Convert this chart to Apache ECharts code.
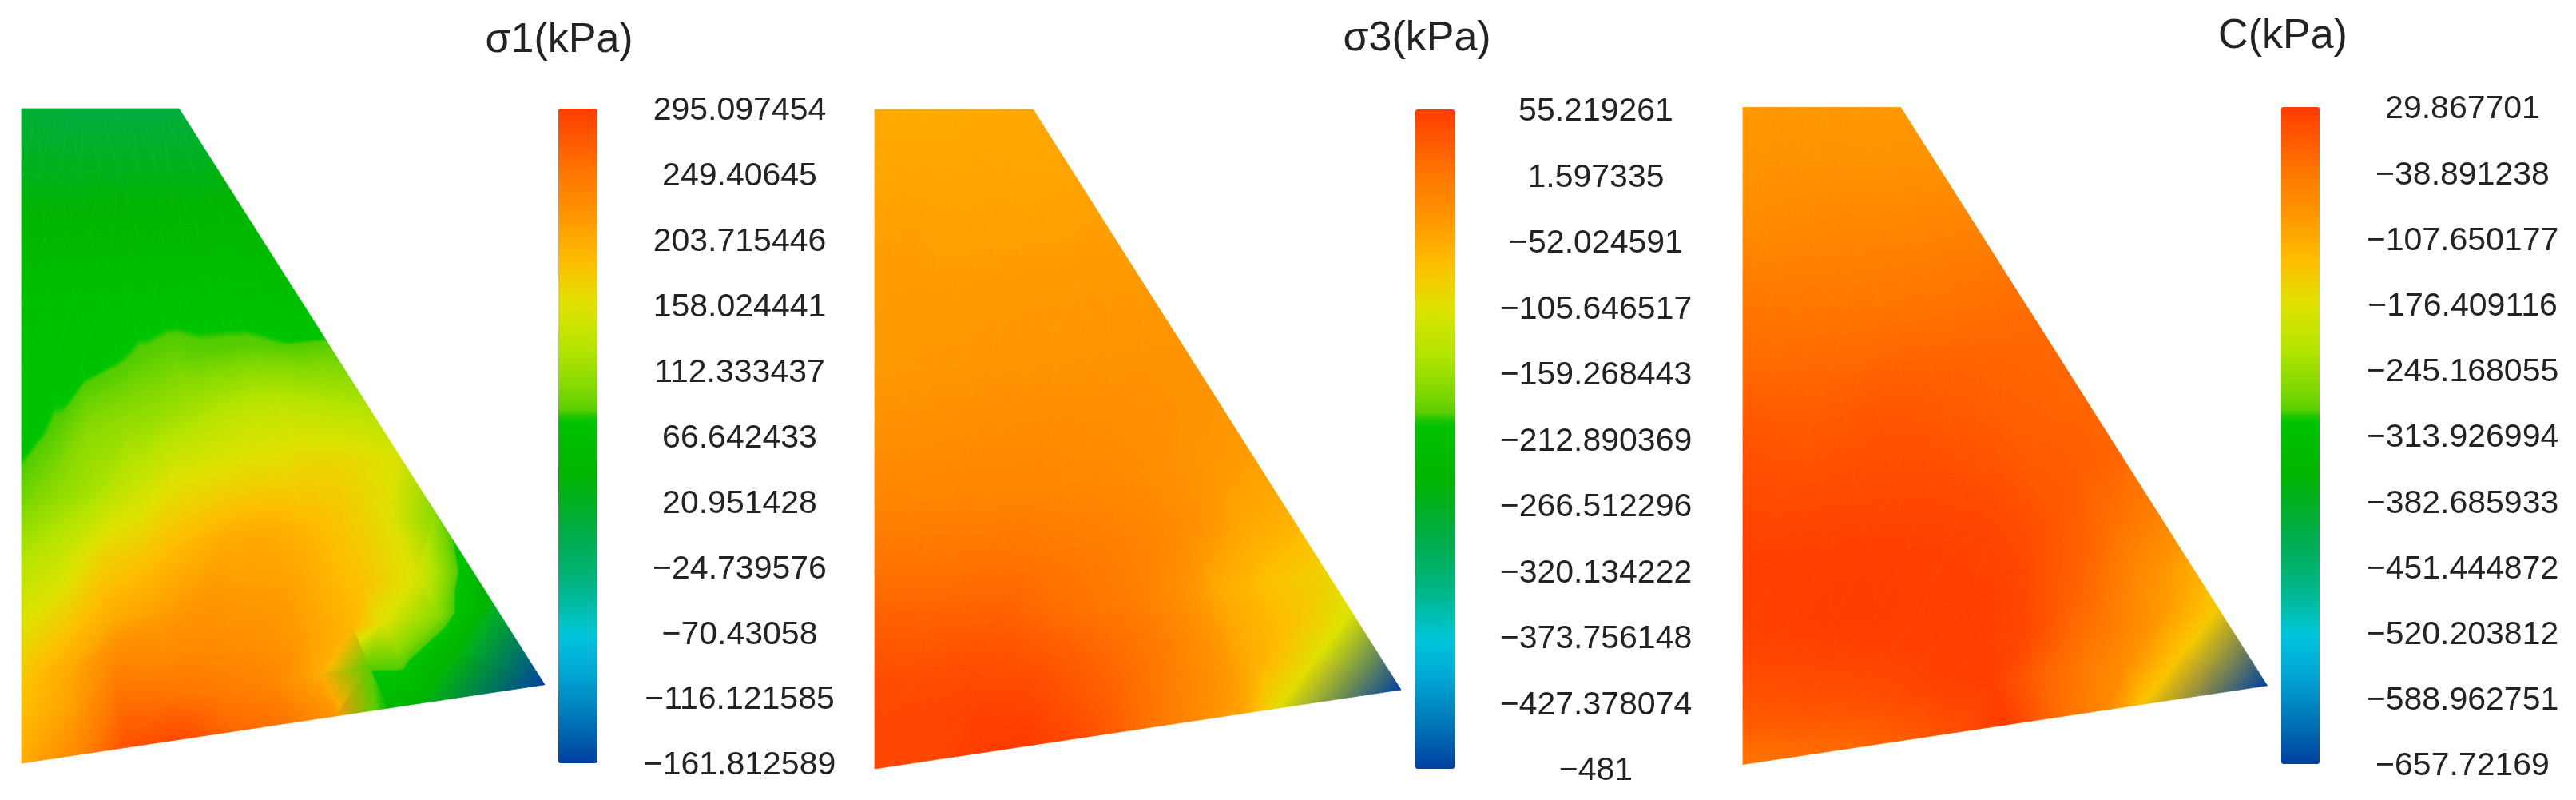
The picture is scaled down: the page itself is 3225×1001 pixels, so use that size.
<!DOCTYPE html>
<html>
<head>
<meta charset="utf-8">
<style>html,body{margin:0;padding:0;background:#fff}#c{width:3225px;height:1001px}</style>
<script src="https://cdn.jsdelivr.net/npm/echarts@6/dist/echarts.min.js"></script>
</head>
<body>
<div id="c"></div>
<script>
const titles = ['σ1(kPa)', 'σ3(kPa)', 'C(kPa)'];

const ticksS1 = ['295.097454','249.40645','203.715446','158.024441','112.333437','66.642433','20.951428','−24.739576','−70.43058','−116.121585','−161.812589'];
const ticksS3 = ['55.219261','1.597335','−52.024591','−105.646517','−159.268443','−212.890369','−266.512296','−320.134222','−373.756148','−427.378074','−481'];
const ticksC  = ['29.867701','−38.891238','−107.650177','−176.409116','−245.168055','−313.926994','−382.685933','−451.444872','−520.203812','−588.962751','−657.72169'];

const rangeS1 = [-161.812589, 295.097454];
const rangeS3 = [-481, 55.219261];
const rangeC  = [-657.72169, 29.867701];

// Mesh stations across the section (u) and down the section (v)
const uStations = [0, .1, .2, .3, .4, .5, .6, .7, .76, .88, 1];
const vStations = [0, .1, .2, .3, .4, .5, .6, .7, .8, .865, .93, 1];
// Outline of the section: top-left, top-right, toe, bottom-left
const outline = [[0, 1], [.301, 1], [1, .12], [0, 0]];

// Nodal values, kPa (rows follow vStations, columns uStations)
const valuesS1 = [
  [7,7,6,3,3,3,2,3,3,4,4],
  [25,25,24,25,25,24,25,25,24,25,25],
  [48,48,47,48,48,48,47,48,48,49,48],
  [67,67,68,67,67,66,67,67,66,62,60],
  [71,71,72,78,85,89,85,85,85,80,80],
  [71,85,103,108,112,121,130,135,135,126,117],
  [94,108,121,140,158,162,167,167,172,167,153],
  [130,144,172,181,194,204,204,194,185,162,103],
  [162,181,204,213,222,217,213,194,185,153,57],
  [181,204,236,231,231,226,213,194,158,103,22],
  [190,213,258,254,245,236,204,85,89,32,null],
  [204,231,281,286,263,254,222,44,39,null,-162]
];
const valuesS3 = [
  [-52,-52,-52,-52,-52,-52,-50,-50,-50,-49,-49],
  [-47,-47,-46,-47,-47,-47,-46,-47,-47,-47,-46],
  [-41,-41,-41,-42,-42,-42,-42,-42,-42,-41,-41],
  [-39,-38,-38,-38,-37,-37,-36,-36,-36,-36,-36],
  [-36,-35,-34,-34,-33,-33,-33,-32,-32,-31,-31],
  [-25,-25,-24,-23,-23,-22,-23,-24,-25,-28,-31],
  [-12,-13,-14,-15,-15,-17,-18,-22,-25,-33,-41],
  [7,5,4,4,1,-4,-9,-17,-25,-47,-57],
  [28,26,26,24,12,2,-9,-31,-52,-74,-90],
  [42,39,40,36,26,12,-4,-31,-52,-74,-108],
  [46,47,50,48,33,15,-7,-33,-57,-102,null],
  [47,45,55,55,40,12,-15,-47,-96,null,-481]
];
const valuesC = [
  [-87,-87,-86,-87,-87,-87,-86,-87,-87,-87,-87],
  [-77,-77,-76,-77,-77,-76,-77,-77,-77,-76,-77],
  [-63,-62,-61,-60,-59,-59,-58,-58,-57,-56,-56],
  [-39,-40,-41,-42,-42,-42,-41,-40,-39,-36,-32],
  [-22,-22,-22,-22,-21,-18,-18,-18,-18,-18,-18],
  [2,-1,-4,-1,2,1,-4,-8,-11,-15,-18],
  [16,13,13,13,13,13,8,2,-4,-8,-18],
  [26,26,26,26,25,23,20,9,-1,-25,-52],
  [23,26,30,30,26,26,23,-4,-18,-66,-108],
  [13,16,20,23,26,26,16,-22,-39,-87,-145],
  [-4,2,6,13,23,26,-15,-49,-66,-140,null],
  [-35,-28,-22,-8,9,30,-25,-66,-135,null,-658]
];

// Colour ramp: position down the bar (0 = top) and its colour
const rampStops = [
  [0,'#ff3c00'],[.1,'#ff7800'],[.165,'#ff9600'],[.23,'#ffbc00'],[.3,'#dfe200'],[.37,'#b4e400'],
  [.43,'#80d800'],[.467,'#50cc00'],[.472,'#00c400'],[.56,'#00b400'],[.65,'#00ac48'],[.72,'#00b47c'],
  [.785,'#00c2c4'],[.805,'#00c4dc'],[.86,'#00a8d4'],[.93,'#0078b8'],[1,'#0040a0']
];

const layouts = [
  {left:27,   top:136,   width:655,   height:819, barLeft:699,  barTop:136, barW:49, barH:819, label:926,  titleX:700,  titleY:51},
  {left:1095, top:137,   width:659,   height:825, barLeft:1772, barTop:137, barW:49, barH:825, label:1998, titleX:1774, titleY:49},
  {left:2182, top:134.5, width:656.5, height:822, barLeft:2856, barTop:134, barW:48, barH:822, label:3083, titleX:2858, titleY:46}
];
const tables = [valuesS1, valuesS3, valuesC];
const ranges = [rangeS1, rangeS3, rangeC];
const tickLists = [ticksS1, ticksS3, ticksC];
const FONT = '"Liberation Sans", Arial, sans-serif';
const TEXT = '#232323';
const LABEL_DROP = 3;

function hexRgb(h){return [parseInt(h.slice(1,3),16),parseInt(h.slice(3,5),16),parseInt(h.slice(5,7),16)];}
const rampRgb = rampStops.map(s => [s[0], hexRgb(s[1])]);
function colorAt(f){
  f = Math.max(0, Math.min(1, f));
  for (let i = 1; i < rampRgb.length; i++) {
    if (f <= rampRgb[i][0]) {
      const a = rampRgb[i-1], b = rampRgb[i], t = (f-a[0])/(b[0]-a[0]);
      return 'rgb(' + a[1].map((c,k) => Math.round(c+(b[1][k]-c)*t)).join(',') + ')';
    }
  }
  return rampStops[rampStops.length-1][1];
}
const rampList = [];
for (let i = 0; i <= 200; i++) rampList.push(colorAt(1 - i/200));

function nodeXY(u, v){
  const [tl, tr, toe, bl] = outline;
  const ax = tl[0]+(tr[0]-tl[0])*u, ay = tl[1]+(tr[1]-tl[1])*u;
  const bx = bl[0]+(toe[0]-bl[0])*u, by = bl[1]+(toe[1]-bl[1])*u;
  return [ax+(bx-ax)*v, ay+(by-ay)*v];
}

function buildTriangles(table){
  const out = [];
  const nu = uStations.length, nv = vStations.length;
  const toe = {p: nodeXY(1,1), v: table[nv-1][nu-1]};
  const node = (i,j) => table[j][i] === null ? null : {p: nodeXY(uStations[i], vStations[j]), v: table[j][i]};
  const push = (a,b,c) => {
    if (!a || !b || !c) return;
    out.push([a.p[0],a.p[1],a.v,b.p[0],b.p[1],b.v,c.p[0],c.p[1],c.v,(a.v+b.v+c.v)/3]);
  };
  for (let j = 0; j < nv-1; j++) for (let i = 0; i < nu-1; i++) {
    const A = node(i,j), B = node(i+1,j), C = node(i,j+1);
    const D = node(i+1,j+1) || toe;
    push(A,B,C);
    push(B,D,C);
  }
  return out;
}

function makeRender(range){
  const [lo, hi] = range;
  const frac = v => (hi - v)/(hi - lo);
  return function(params, api){
    const pts = [0,3,6].map(k => api.coord([api.value(k), api.value(k+1)]));
    const vals = [2,5,8].map(k => api.value(k));
    const order = [0,1,2].sort((a,b) => vals[a]-vals[b]);
    const vmin = vals[order[0]], vmax = vals[order[2]];
    const [p0,p1,p2] = pts, [v0,v1,v2] = vals;
    const det = (p1[0]-p0[0])*(p2[1]-p0[1]) - (p2[0]-p0[0])*(p1[1]-p0[1]);
    let fill;
    if (vmax - vmin < 1e-6 || Math.abs(det) < 1e-6) {
      fill = colorAt(frac((vmin+vmax)/2));
    } else {
      const gx = ((v1-v0)*(p2[1]-p0[1]) - (v2-v0)*(p1[1]-p0[1]))/det;
      const gy = ((v2-v0)*(p1[0]-p0[0]) - (v1-v0)*(p2[0]-p0[0]))/det;
      const g2 = gx*gx + gy*gy;
      const s = pts[order[0]];
      const d = (vmax-vmin)/g2;
      const stops = [];
      const fTop = frac(vmax), fLow = frac(vmin), span = fLow - fTop;
      const direct = span > 0.22 || (span > 0.12 && fTop < 0.305 && fLow > 0.3);
      if (direct) {
        order.forEach(o => stops.push({offset:(vals[o]-vmin)/(vmax-vmin), color:colorAt(frac(vals[o]))}));
      } else {
        stops.push({offset:0, color:colorAt(fLow)});
        for (let i = rampStops.length-1; i >= 0; i--) {
          const val = hi - rampStops[i][0]*(hi-lo);
          if (val > vmin && val < vmax) stops.push({offset:(val-vmin)/(vmax-vmin), color:rampStops[i][1]});
        }
        stops.push({offset:1, color:colorAt(fTop)});
      }
      fill = {type:'linear', x:s[0], y:s[1], x2:s[0]+gx*d, y2:s[1]+gy*d, global:true, colorStops:stops};
    }
    return {type:'polygon', shape:{points:pts}, style:{fill:fill, stroke:fill, lineWidth:0.8}};
  };
}

const grid = [], xAxis = [], yAxis = [], series = [], visualMap = [], title = [];
layouts.forEach((L, i) => {
  grid.push({left:L.left, top:L.top, width:L.width, height:L.height, containLabel:false});
  xAxis.push({type:'value', gridIndex:i, min:0, max:1, show:false});
  yAxis.push({type:'value', gridIndex:i, min:0, max:1, show:false});
  series.push({
    type:'custom', xAxisIndex:i, yAxisIndex:i, coordinateSystem:'cartesian2d', silent:true, clip:false,
    encode:{x:[0,3,6], y:[1,4,7]},
    data:buildTriangles(tables[i]), renderItem:makeRender(ranges[i]), animation:false
  });
  visualMap.push({
    type:'continuous', seriesIndex:i, dimension:9, min:ranges[i][0], max:ranges[i][1],
    left:L.barLeft, top:L.barTop, itemWidth:L.barW, itemHeight:L.barH, padding:0,
    calculable:false, hoverLink:false, inRange:{color:rampList}, text:null, orient:'vertical'
  });
  title.push({
    text:titles[i], left:L.titleX, top:L.titleY-26, textAlign:'center', padding:0,
    textStyle:{fontFamily:FONT, fontSize:52, fontWeight:'normal', color:TEXT}
  });
});
layouts.forEach((L, i) => {
  const g = grid.length;
  grid.push({left:L.barLeft, top:L.barTop + LABEL_DROP, width:L.barW, height:L.barH});
  xAxis.push({type:'category', gridIndex:g, show:false, data:['']});
  yAxis.push({
    type:'category', gridIndex:g, position:'right', boundaryGap:false,
    data:tickLists[i].slice().reverse(),
    axisLine:{show:false}, axisTick:{show:false}, splitLine:{show:false},
    axisLabel:{show:true, interval:0, align:'center', margin:L.label-(L.barLeft+L.barW),
      fontFamily:FONT, fontSize:41, color:TEXT}
  });
});

const chart = echarts.init(document.getElementById('c'), null, {renderer:'canvas', width:3225, height:1001});
chart.setOption({animation:false, backgroundColor:'#ffffff', title, grid, xAxis, yAxis, series, visualMap, tooltip:{show:false}});
</script>
</body>
</html>
